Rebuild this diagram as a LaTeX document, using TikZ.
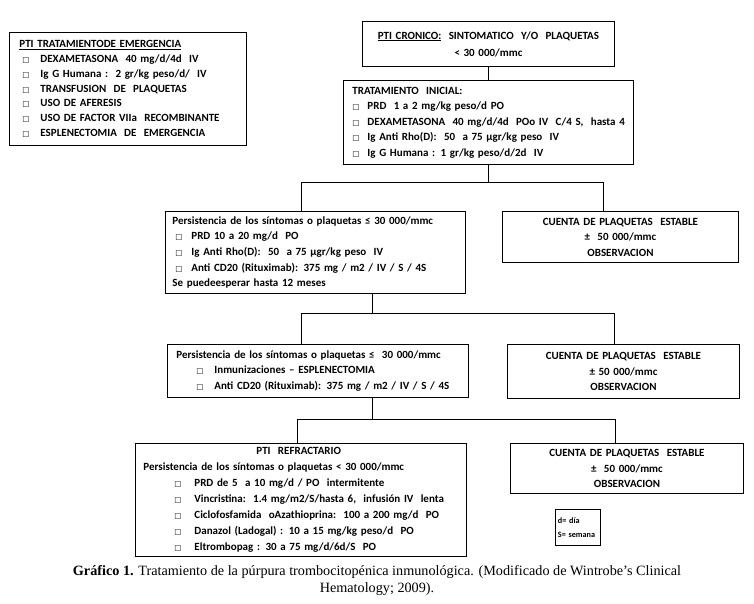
\documentclass[tikz,border=0pt]{standalone}
\usepackage{fontspec}
\setmainfont{Carlito}
\newfontfamily\capfont{Liberation Serif}
\newfontfamily\dejavu{DejaVu Sans}
\newcommand\bx{{\dejavu\fontsize{7.5}{8}\selectfont □}}
\newcommand\li[3]{\hspace*{#1}\makebox[#2][l]{\bx}#3}
\newcommand\fsmain{\fontsize{11}{15.5}\selectfont\bfseries}
\hyphenpenalty=10000
\begin{document}
\begin{tikzpicture}[x=1pt,y=-1pt,
  box/.style={draw, line width=0.9pt, font=\fsmain, inner ysep=0pt},
  lbox/.style={box, align=left, anchor=north west},
  cbox/.style={box, align=center, anchor=north west, inner xsep=0pt},
  conn/.style={line width=0.9pt}]
\useasboundingbox (0,0) rectangle (754,604);

\node[lbox, inner xsep=10pt, text width=217pt, minimum height=113pt,
  font=\fontsize{11}{14.8}\selectfont\bfseries] (em) at (9,32) {%
\underline{PTI TRATAMIENTODE EMERGENCIA}\\
\li{3pt}{18pt}{DEXAMETASONA\ \ 40 mg/d/4d\ \ IV}\\
\li{3pt}{18pt}{Ig G Humana :\ \ 2 gr/kg peso/d/\ \ IV}\\
\li{3pt}{18pt}{TRANSFUSION\ \ DE\ \ PLAQUETAS}\\
\li{3pt}{18pt}{USO DE AFERESIS}\\
\li{3pt}{18pt}{USO DE FACTOR VIIa\ \ RECOMBINANTE}\\
\li{3pt}{18pt}{ESPLENECTOMIA\ \ DE\ \ EMERGENCIA}};

\node[cbox, text width=252pt, minimum height=45pt,
  font=\fontsize{11}{17}\selectfont\bfseries] (top) at (362,21) {%
\underline{PTI CRONICO:}\ \ SINTOMATICO\ \ Y/O\ \ PLAQUETAS\\
< 30 000/mmc};

\node[lbox, inner xsep=9pt, text width=272pt, minimum height=84pt] (trat) at (343,80) {%
TRATAMIENTO\ \ INICIAL:\\
\li{0pt}{15pt}{PRD\ \ 1 a 2 mg/kg peso/d PO}\\
\mbox{\li{0pt}{15pt}{DEXAMETASONA\ \ 40 mg/d/4d\ \ POo IV\ \ C/4 S,\ \ hasta 4}}\\
\li{0pt}{15pt}{Ig Anti Rho(D):\ \ 50\ \ a 75 µgr/kg peso\ \ IV}\\
\li{0pt}{15pt}{Ig G Humana : 1 gr/kg peso/d/2d\ \ IV}};

\node[lbox, inner xsep=7pt, text width=286pt, minimum height=82pt,
  font=\fontsize{11}{15.7}\selectfont\bfseries] (p1) at (165,211) {%
Persistencia de los síntomas o plaquetas ≤ 30 000/mmc\\
\li{3pt}{16pt}{PRD 10 a 20 mg/d\ \ PO}\\
\li{3pt}{16pt}{Ig Anti Rho(D):\ \ 50\ \ a 75 µgr/kg peso\ \ IV}\\
\li{3pt}{16pt}{Anti CD20 (Rituximab): 375 mg / m2 / IV / S / 4S}\\
Se puedeesperar hasta 12 meses};

\node[cbox, text width=236pt, minimum height=51pt] (c1) at (502,211) {%
CUENTA DE PLAQUETAS\ \ ESTABLE\\ ±\ \ 50 000/mmc\\ OBSERVACION};

\node[lbox, inner xsep=9pt, text width=283pt, minimum height=53pt] (p2) at (167,344) {%
Persistencia de los síntomas o plaquetas ≤\ \ 30 000/mmc\\
\li{20pt}{18pt}{Inmunizaciones – ESPLENECTOMIA}\\
\li{20pt}{18pt}{Anti CD20 (Rituximab): 375 mg / m2 / IV / S / 4S}};

\node[cbox, text width=232pt, minimum height=54pt] (c2) at (507,344) {%
CUENTA DE PLAQUETAS\ \ ESTABLE\\ ± 50 000/mmc\\ OBSERVACION};

\node[lbox, inner xsep=8pt, text width=315pt, minimum height=113pt,
  font=\fontsize{11}{16}\selectfont\bfseries] (ref) at (135,443) {%
\hspace*{113pt}PTI\ \ REFRACTARIO\\
Persistencia de los síntomas o plaquetas < 30 000/mmc\\
\li{31pt}{20pt}{PRD de 5\ \ a 10 mg/d / PO\ \ intermitente}\\
\li{31pt}{20pt}{Vincristina:\ \ 1.4 mg/m2/S/hasta 6,\ \ infusión IV\ \ lenta}\\
\li{31pt}{20pt}{Ciclofosfamida\ \ oAzathioprina:\ \ 100 a 200 mg/d\ \ PO}\\
\li{31pt}{20pt}{Danazol (Ladogal) : 10 a 15 mg/kg peso/d\ \ PO}\\
\li{31pt}{20pt}{Eltrombopag : 30 a 75 mg/d/6d/S\ \ PO}};

\node[cbox, text width=233pt, minimum height=50pt] (c3) at (510,443) {%
CUENTA DE PLAQUETAS\ \ ESTABLE\\ ±\ \ 50 000/mmc\\ OBSERVACION};

\node[lbox, inner xsep=2.5pt, text width=40pt, minimum height=36pt, line width=0.8pt,
  font=\fontsize{8.2}{13.5}\selectfont\bfseries] (leg) at (555,509) {%
d= día\\ S= semana};

\node[font=\capfont\fontsize{14.2}{17}\selectfont, align=center, inner sep=0pt] (cap) at (377,581) {%
\textbf{Gráfico 1.} Tratamiento de la púrpura trombocitopénica inmunológica. (Modificado de Wintrobe’s Clinical\\
Hematology; 2009).};

\coordinate (b1l) at (301,182);
\coordinate (b1r) at (603,182);
\coordinate (k1) at (372,313);
\coordinate (b2l) at (301,313);
\coordinate (b2r) at (614,313);
\coordinate (k2) at (372,419);
\coordinate (b3l) at (297,419);
\coordinate (b3r) at (615,419);

\draw[conn] (top.south) -- (trat.north);
\draw[conn] (trat.south) -- (trat.south |- b1l);
\draw[conn] (b1l |- p1.north) -- (b1l) -- (b1r) -- (b1r |- c1.north);
\draw[conn] (k1 |- p1.south) -- (k1);
\draw[conn] (b2l |- p2.north) -- (b2l) -- (b2r) -- (b2r |- c2.north);
\draw[conn] (k2 |- p2.south) -- (k2);
\draw[conn] (b3l |- ref.north) -- (b3l) -- (b3r) -- (b3r |- c3.north);
\end{tikzpicture}
\end{document}
